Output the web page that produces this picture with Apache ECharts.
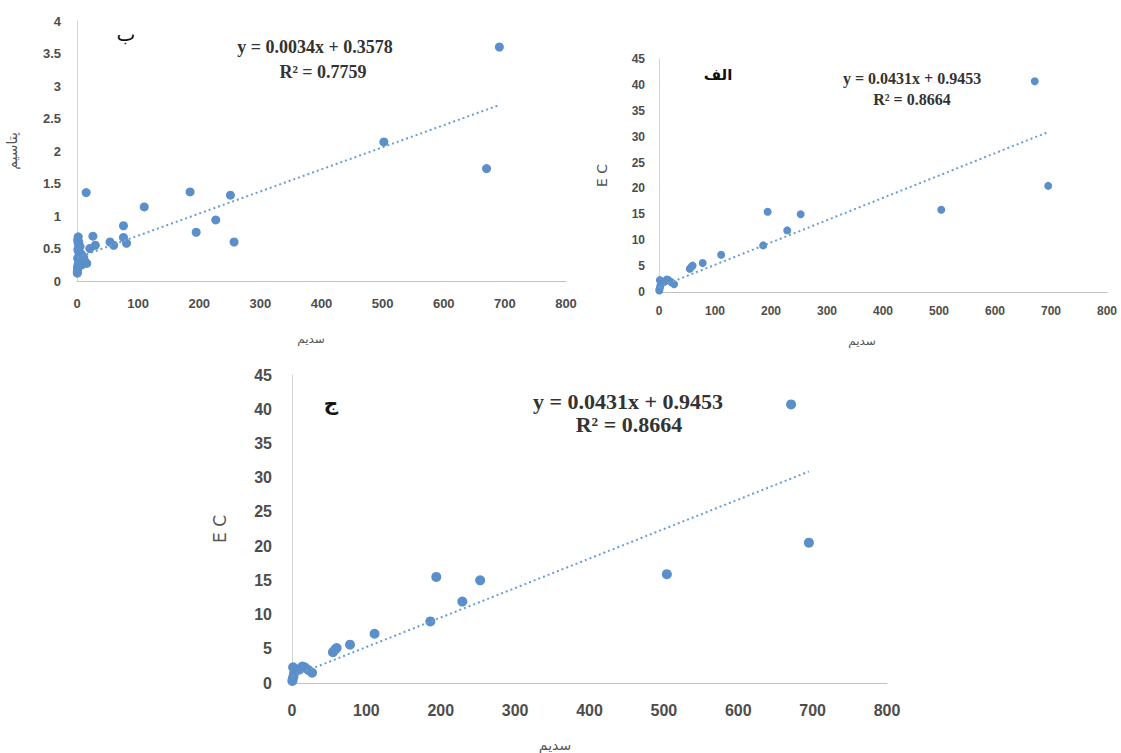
<!DOCTYPE html>
<html>
<head>
<meta charset="utf-8">
<script src="https://cdn.jsdelivr.net/npm/echarts@6/dist/echarts.min.js"></script>
<style>
html,body{margin:0;padding:0;background:#fff;}
#c{width:1121px;height:753px;}
</style>
</head>
<body>
<div id="c"></div>
<script>
// ---- Data ----
// Chart "ب": sodium (x) vs potassium (y)
const kSodium    = [0.5, 1, 1, 1.5, 2, 2, 3, 4, 5, 6, 8, 8, 10, 13, 16, 0.5, 1, 2, 3, 4, 1, 6, 2, 9, 11, 15, 21, 26, 30, 54, 60, 76, 76, 81, 110, 185, 195, 227, 251, 257, 502, 670, 691];
const kPotassium = [0.14, 0.22, 0.35, 0.48, 0.58, 0.68, 0.60, 0.30, 0.53, 0.42, 0.25, 0.40, 0.28, 0.30, 0.27, 0.12, 0.18, 0.26, 0.44, 0.38, 0.63, 0.34, 0.50, 0.32, 0.36, 1.36, 0.50, 0.69, 0.55, 0.60, 0.55, 0.85, 0.67, 0.58, 1.14, 1.37, 0.75, 0.94, 1.32, 0.60, 2.14, 1.73, 3.60];
// Charts "الف" and "ج": sodium (x) vs EC (y)
const ecSodium = [0.5, 1, 2, 1.5, 3, 5, 8, 10, 14, 17, 22, 27, 55, 58, 60, 78, 111, 186, 194, 229, 253, 504, 671, 695];
const ecValues = [0.3, 0.6, 1.0, 2.3, 1.5, 1.8, 1.9, 2.0, 2.4, 2.3, 1.9, 1.5, 4.5, 4.9, 5.1, 5.6, 7.2, 9.0, 15.5, 11.9, 15.0, 15.9, 40.7, 20.5];
// Trend line end points (from the printed equations)
const trendK  = [[0, 0.3578], [691, 2.7072]];
const trendEC = [[0, 0.9453], [695, 30.90]];
// Tick settings / labels
const xTicks = {min: 0, max: 800, interval: 100};
const kTicks = {min: 0, max: 4, interval: 0.5};
const ecTicks = {min: 0, max: 45, interval: 5};
const eqK = ['y = 0.0034x + 0.3578', 'R² = 0.7759'];
const eqEC = ['y = 0.0431x + 0.9453', 'R² = 0.8664'];
const xTitle = 'سدیم';
const yTitleK = 'پتاسیم';
const yTitleEC = 'E C';
const panelLabels = ['ب', 'الف', 'ج'];

const pairs = (xs, ys) => xs.map((x, i) => [x, ys[i]]);

const dotColor = '#5b8fc9';
const trendColor = '#6a9fd2';
const labelColor = '#4d4d4d';
const axisLineColor = '#c0c0c0';
const labelFont = 'Arial, "Liberation Sans", sans-serif';

function xAxisFor(gridIndex, fontSize, margin) {
  return {
    type: 'value', gridIndex, min: xTicks.min, max: xTicks.max, interval: xTicks.interval,
    splitLine: {show: false}, axisTick: {show: false},
    axisLine: {show: true, onZero: false, lineStyle: {color: axisLineColor, width: 1}},
    axisLabel: {color: labelColor, fontWeight: 700, fontSize, margin, fontFamily: labelFont}
  };
}
function yAxisFor(gridIndex, ticks, fontSize, margin, name, nameGap, nameSize) {
  return {
    type: 'value', gridIndex, min: ticks.min, max: ticks.max, interval: ticks.interval,
    splitLine: {show: false}, axisTick: {show: false},
    axisLine: {show: true, lineStyle: {color: '#d4d4d4', width: 1}},
    axisLabel: {color: labelColor, fontWeight: 700, fontSize, margin, fontFamily: labelFont},
    name, nameLocation: 'middle', nameGap, nameRotate: 90,
    nameTextStyle: {color: '#555', fontSize: nameSize, fontFamily: '"DejaVu Sans", sans-serif'}
  };
}
function txt(text, x, y, size, opts) {
  opts = opts || {};
  return {
    type: 'text', x, y, silent: true, z: 100,
    style: {
      text, fill: opts.fill || '#333',
      font: (opts.weight || 'normal') + ' ' + size + 'px ' + (opts.family || '"Liberation Serif", "Times New Roman", serif'),
      textAlign: 'center', textVerticalAlign: 'middle'
    }
  };
}

const chart = echarts.init(document.getElementById('c'), null, {renderer: 'svg'});
chart.setOption({
  backgroundColor: '#ffffff',
  animation: false,
  grid: [
    {left: 77, top: 21, width: 489, height: 260},
    {left: 659, top: 59, width: 448, height: 233},
    {left: 292, top: 375, width: 595, height: 308}
  ],
  xAxis: [
    xAxisFor(0, 13, 16),
    xAxisFor(1, 12, 13),
    xAxisFor(2, 16, 19)
  ],
  yAxis: [
    yAxisFor(0, kTicks, 13, 16, yTitleK, 58, 14),
    yAxisFor(1, ecTicks, 12, 14, yTitleEC, 50, 14),
    yAxisFor(2, ecTicks, 16, 20, yTitleEC, 64, 17)
  ],
  series: [
    {type: 'scatter', xAxisIndex: 0, yAxisIndex: 0, data: pairs(kSodium, kPotassium), symbolSize: 9, itemStyle: {color: dotColor, opacity: 1}},
    {type: 'line', xAxisIndex: 0, yAxisIndex: 0, data: trendK, symbol: 'none', lineStyle: {color: trendColor, width: 2, type: [2, 3]}, z: 3},
    {type: 'scatter', xAxisIndex: 1, yAxisIndex: 1, data: pairs(ecSodium, ecValues), symbolSize: 8, itemStyle: {color: dotColor, opacity: 1}},
    {type: 'line', xAxisIndex: 1, yAxisIndex: 1, data: trendEC, symbol: 'none', lineStyle: {color: trendColor, width: 2, type: [2, 3]}, z: 3},
    {type: 'scatter', xAxisIndex: 2, yAxisIndex: 2, data: pairs(ecSodium, ecValues), symbolSize: 10, itemStyle: {color: dotColor, opacity: 1}},
    {type: 'line', xAxisIndex: 2, yAxisIndex: 2, data: trendEC, symbol: 'none', lineStyle: {color: trendColor, width: 2, type: [2, 3]}, z: 3}
  ],
  graphic: [
    txt(panelLabels[0], 126, 34, 20, {weight: 'normal', fill: '#111', family: '"DejaVu Sans", sans-serif'}),
    txt(panelLabels[1], 718, 75, 15, {weight: 'bold', fill: '#111', family: '"DejaVu Sans", sans-serif'}),
    txt(panelLabels[2], 331, 403, 20, {weight: 'bold', fill: '#111', family: '"DejaVu Sans", sans-serif'}),
    txt(eqK[0], 315, 47, 18, {weight: 'bold'}),
    txt(eqK[1], 323, 72, 18, {weight: 'bold'}),
    txt(eqEC[0], 912, 78, 16, {weight: 'bold'}),
    txt(eqEC[1], 912, 99, 16, {weight: 'bold'}),
    txt(eqEC[0], 628, 401, 22, {weight: 'bold'}),
    txt(eqEC[1], 629, 424, 22, {weight: 'bold'}),
    txt(xTitle, 311, 339, 12, {fill: '#555', family: '"DejaVu Sans", sans-serif'}),
    txt(xTitle, 862, 341, 12, {fill: '#555', family: '"DejaVu Sans", sans-serif'}),
    txt(xTitle, 555, 745, 14, {fill: '#555', family: '"DejaVu Sans", sans-serif'})
  ]
});
</script>
</body>
</html>
